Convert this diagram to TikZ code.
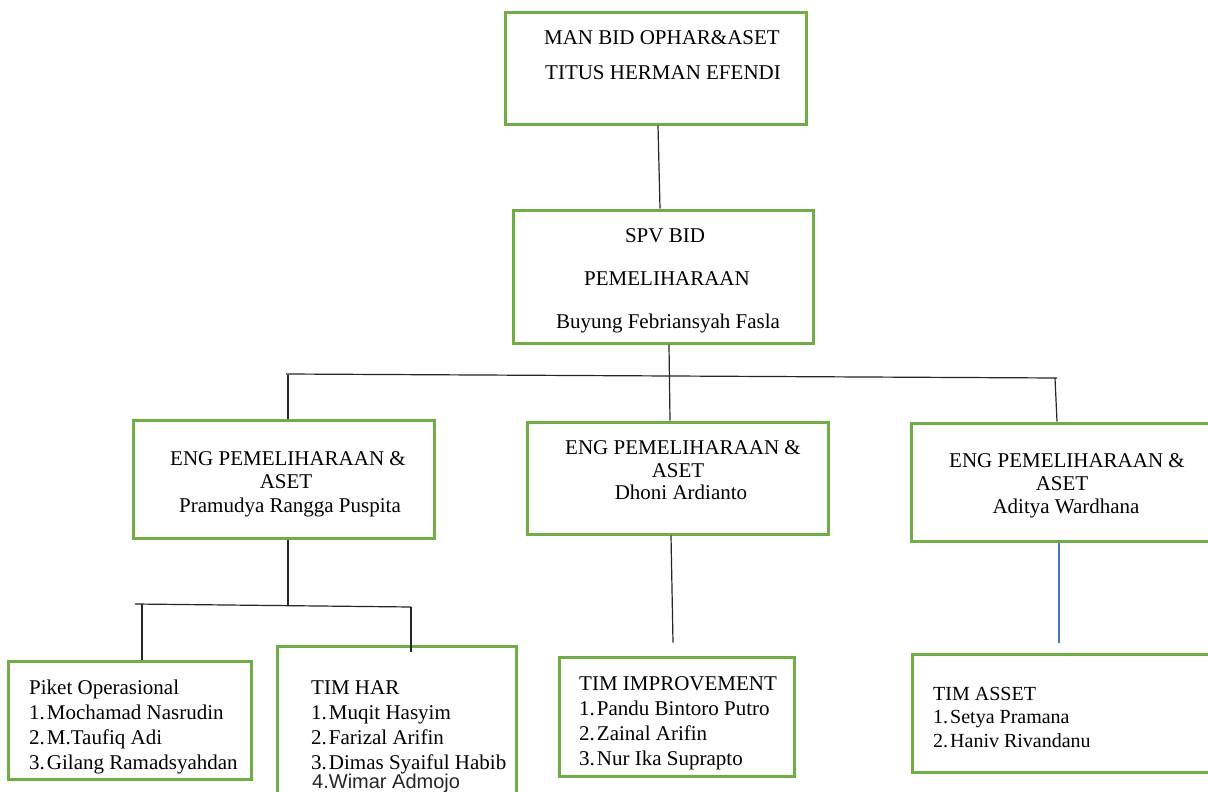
\documentclass[tikz,border=0pt]{standalone}
\usepackage{fontspec}
\setmainfont{Liberation Serif}
\newfontfamily\wimarfont{Liberation Sans}
\definecolor{boxgreen}{HTML}{70AD47}
\definecolor{lineblue}{HTML}{4472C4}
\begin{document}
\begin{tikzpicture}[x=1pt,y=-1pt,
  orgbox/.style={draw=boxgreen,line width=3pt,fill=white,inner sep=0pt},
  txt/.style={inner sep=0pt,font=\fontsize{21}{25}\selectfont},
  txtl/.style={txt,anchor=base west},
  txtc/.style={txt,anchor=base},
  conn/.style={draw=black!85,line width=1.2pt}]
\useasboundingbox[fill=white] (0,0) rectangle (1208,792);

% boxes
\node[orgbox,minimum width=301pt,minimum height=111pt] (b1) at (655.5,68.5) {};
\node[orgbox,minimum width=300pt,minimum height=133pt] (b2) at (663,276.5) {};
\node[orgbox,minimum width=301pt,minimum height=118pt] (b3) at (283.5,479) {};
\node[orgbox,minimum width=301pt,minimum height=112pt] (b4) at (677.5,478) {};
\node[orgbox,minimum width=309pt,minimum height=118pt] (b5) at (1065.5,482) {};
\node[orgbox,minimum width=242.5pt,minimum height=118pt] (b6) at (129.75,720) {};
\node[orgbox,minimum width=239pt,minimum height=154pt] (b7) at (396.5,723) {};
\node[orgbox,minimum width=235pt,minimum height=119pt] (b8) at (676.5,716.5) {};
\node[orgbox,minimum width=308pt,minimum height=118pt] (b9) at (1066,713) {};

% connectors
\coordinate (busL) at (286,374);
\coordinate (busR) at (1057,378);
\coordinate (busB3) at (288,374.5);
\coordinate (busB5) at (1055,378);
\coordinate (subL) at (135,604);
\coordinate (subR) at (411,607);
\coordinate (subM) at (288,605);
\coordinate (subB6) at (142,604.3);

\draw[conn] ([xshift=2.5pt]b1.south) -- ([xshift=-3pt]b2.north);
\draw[conn] ([xshift=6pt]b2.south) -- ([xshift=-7.5pt]b4.north);
\draw[conn] (busL) -- (busR);
\draw[conn] (busB3) -- ([xshift=4.5pt]b3.north);
\draw[conn] (busB5) -- ([xshift=-8.5pt]b5.north);
\draw[conn] ([xshift=4.5pt]b3.south) -- (subM);
\draw[conn] (subL) -- (subR);
\draw[conn] (subB6) -- ([xshift=12.25pt]b6.north);
\draw[conn] (subR) -- ([xshift=14.5pt,yshift=-7pt]b7.north);
\draw[conn] ([xshift=-6.5pt]b4.south) -- ([xshift=-3.5pt,yshift=13pt]b8.north);
\draw[draw=lineblue,line width=1.2pt] ([xshift=-6.5pt]b5.south) -- ([xshift=-7pt,yshift=10pt]b9.north);

% texts
\node[txtc] (t1a) at (662,45) {MAN BID OPHAR\&ASET};
\node[txtc] (t1b) at (663,80) {TITUS HERMAN EFENDI};

\node[txtc] (t2a) at (665,242) {SPV BID};
\node[txtc] (t2b) at (667,285) {PEMELIHARAAN};
\node[txtc] (t2c) at (668,328) {Buyung Febriansyah Fasla};

\node[txtc] (t3a) at (288,465) {ENG PEMELIHARAAN \&};
\node[txtc] (t3b) at (286,488) {ASET};
\node[txtc] (t3c) at (290,512) {Pramudya Rangga Puspita};

\node[txtc] (t4a) at (683,454) {ENG PEMELIHARAAN \&};
\node[txtc] (t4b) at (678,477) {ASET};
\node[txtc] (t4c) at (681,499) {Dhoni Ardianto};

\node[txtc] (t5a) at (1067,467) {ENG PEMELIHARAAN \&};
\node[txtc] (t5b) at (1062,490) {ASET};
\node[txtc] (t5c) at (1066,513) {Aditya Wardhana};

\node[txtl] (t6a) at (29,694) {Piket Operasional};
\node[txtl] (t6b) at (29,719) {1.\kern2pt Mochamad Nasrudin};
\node[txtl] (t6c) at (29,744) {2.\kern2pt M.Taufiq Adi};
\node[txtl] (t6d) at (29,769) {3.\kern2pt Gilang Ramadsyahdan};

\node[txtl] (t7a) at (311,694) {TIM HAR};
\node[txtl] (t7b) at (311,719) {1.\kern2pt Muqit Hasyim};
\node[txtl] (t7c) at (311,744) {2.\kern2pt Farizal Arifin};
\node[txtl] (t7d) at (311,769) {3.\kern2pt Dimas Syaiful Habib};
\node[inner sep=0pt,anchor=base west,font=\wimarfont\fontsize{20}{24}\selectfont,text=black!85] (t7e) at (312,788) {4.Wimar Admojo};

\node[txtl] (t8a) at (579,690) {TIM IMPROVEMENT};
\node[txtl] (t8b) at (579,715) {1.\kern2pt Pandu Bintoro Putro};
\node[txtl] (t8c) at (579,740) {2.\kern2pt Zainal Arifin};
\node[txtl] (t8d) at (579,765) {3.\kern2pt Nur Ika Suprapto};

\node[txtl,font=\fontsize{20}{24}\selectfont] (t9a) at (933,700) {TIM ASSET};
\node[txtl,font=\fontsize{20}{24}\selectfont] (t9b) at (933,723) {1.\kern2pt Setya Pramana};
\node[txtl,font=\fontsize{20}{24}\selectfont] (t9c) at (933,747) {2.\kern2pt Haniv Rivandanu};
\end{tikzpicture}
\end{document}
